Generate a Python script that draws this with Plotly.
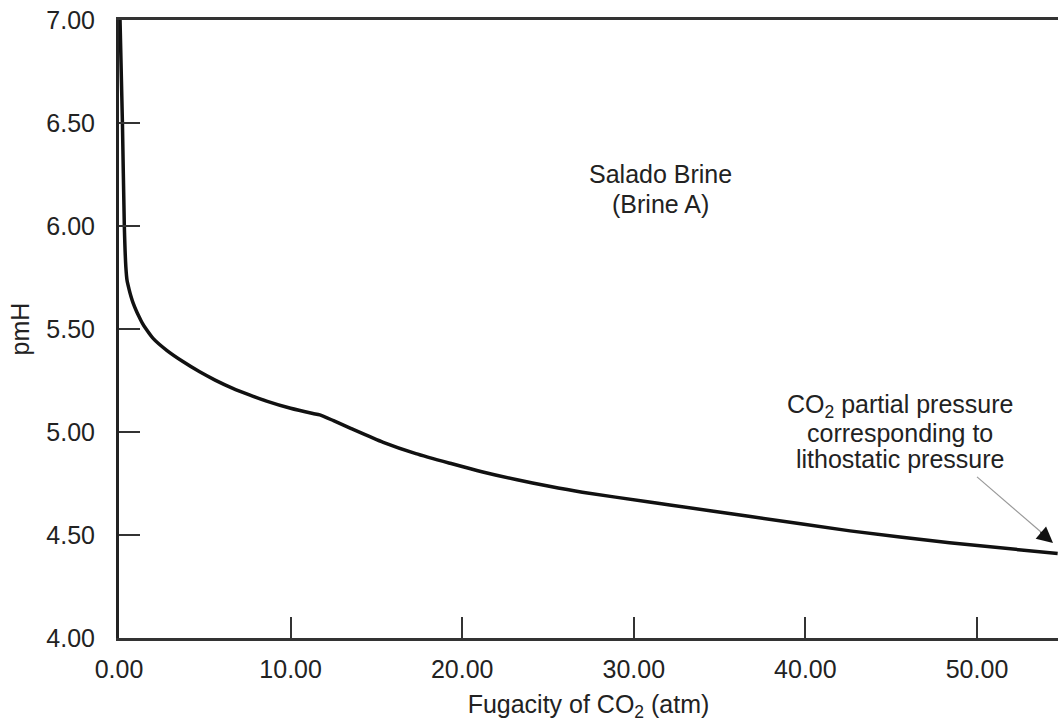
import plotly.graph_objects as go

# Data
fugacity = [0.06, 0.2, 0.31, 0.40, 0.47, 0.58, 0.7, 0.82, 1.0, 1.15, 1.35, 1.6, 2.0, 2.8,
            3.7, 4.7, 5.6, 6.6, 7.6, 8.6, 10.0, 11.3, 11.7, 12.5, 13.5, 15.4, 17.3, 19.3,
            21.2, 23.2, 25.0, 27.0, 30.9, 32.1, 36.8, 42.6, 48.4, 54.7]
pmh = [7.0, 6.5, 6.0, 5.80, 5.735, 5.695, 5.658, 5.627, 5.59, 5.563, 5.53, 5.497, 5.453,
       5.395, 5.343, 5.292, 5.252, 5.213, 5.180, 5.150, 5.115, 5.090, 5.083, 5.055,
       5.018, 4.950, 4.895, 4.848, 4.806, 4.768, 4.738, 4.708, 4.660, 4.646, 4.590,
       4.520, 4.462, 4.41]

x_ticks = [0, 10, 20, 30, 40, 50]
y_ticks = [4.0, 4.5, 5.0, 5.5, 6.0, 6.5, 7.0]

FONT = "Liberation Sans, Arial, sans-serif"
TXT = "#222222"
FS = 25

fig = go.Figure()
fig.add_trace(go.Scatter(x=fugacity, y=pmh, mode="lines",
                         line=dict(color="#111111", width=3.5, shape="spline",
                                   smoothing=0.6),
                         showlegend=False, hoverinfo="skip"))

fig.update_layout(
    width=1058, height=727,
    margin=dict(l=119, r=0, t=20, b=89, autoexpand=False),
    paper_bgcolor="white", plot_bgcolor="white",
    font=dict(family=FONT, size=FS, color=TXT),
    xaxis=dict(range=[0, 54.72], tickvals=x_ticks, tickformat=".2f",
               ticks="inside", ticklen=21, tickwidth=2, tickcolor="#333333",
               showline=True, linecolor="#333333", linewidth=2.5, mirror=True,
               showgrid=False, zeroline=False, ticklabelstandoff=7,
               ticklabeloverflow="allow", automargin=False,
               title=dict(text="Fugacity of CO<sub>2</sub> (atm)", standoff=14,
                          font=dict(size=FS, color=TXT))),
    yaxis=dict(range=[4, 7], tickvals=y_ticks, tickformat=".2f",
               ticks="inside", ticklen=21, tickwidth=2, tickcolor="#333333",
               showline=True, linecolor="#222222", linewidth=3,
               showgrid=False, zeroline=False, ticklabelstandoff=16,
               ticklabeloverflow="allow", automargin=False,
               title=dict(text="pmH", standoff=10, font=dict(size=FS, color=TXT))),
)

def ann(x, y, text):
    fig.add_annotation(x=x, y=y, xref="x", yref="y", showarrow=False, text=text,
                       xanchor="center", yanchor="middle",
                       font=dict(size=FS, color=TXT, family=FONT))

ann(31.53, 6.252, "Salado Brine")
ann(31.53, 6.107, "(Brine A)")
ann(45.51, 5.125, "CO<sub>2</sub> partial pressure")
ann(45.51, 4.995, "corresponding to")
ann(45.51, 4.869, "lithostatic pressure")

# grey leader line
fig.add_shape(type="line", x0=50.0, y0=4.782, x1=54.0, y1=4.495, xref="x", yref="y",
              line=dict(color="#999999", width=1.2))
# black arrow head
fig.add_annotation(x=54.43, y=4.461, xref="x", yref="y", ax=-14, ay=-12,
                   showarrow=True, arrowhead=2, arrowsize=2.0, arrowwidth=1.6,
                   arrowcolor="#111111", text="")

fig.write_html("out.html", config={"displayModeBar": False},
               post_script="document.body.style.margin='0';"
                           "document.body.style.overflow='hidden';")
